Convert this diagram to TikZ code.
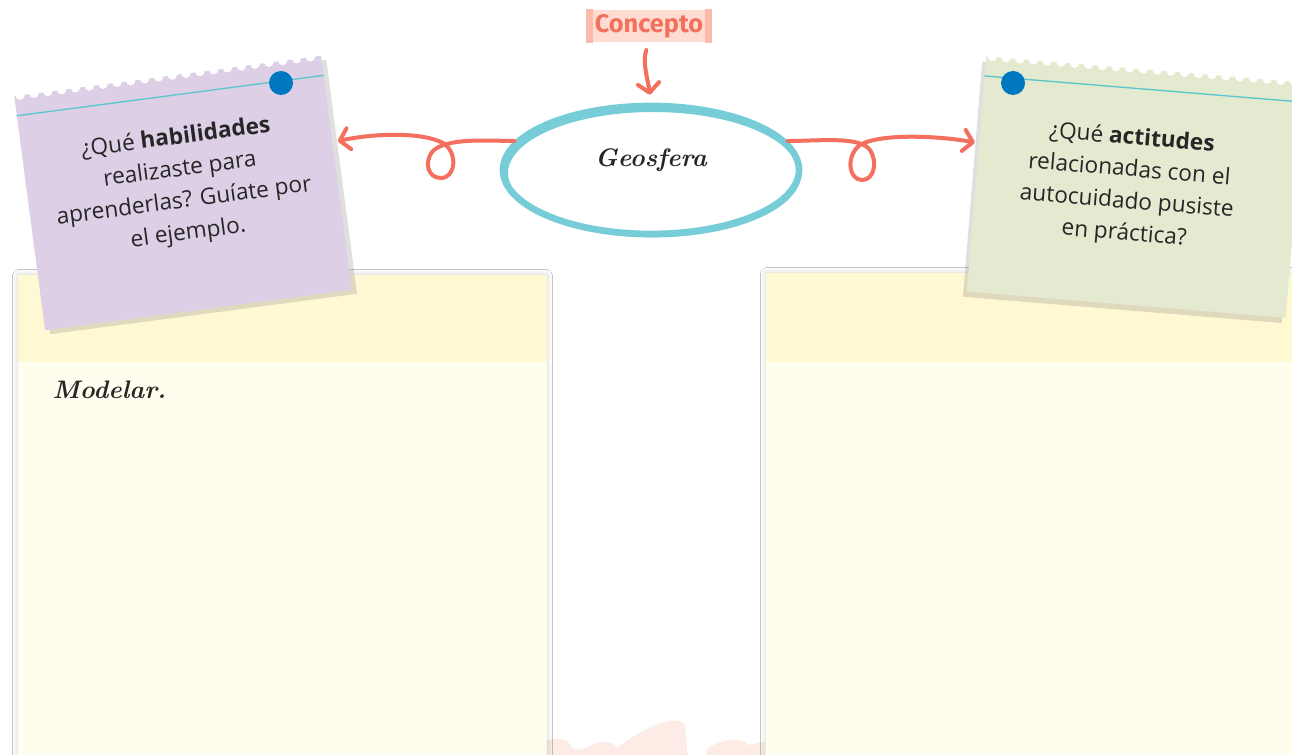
\documentclass[tikz,border=0pt]{standalone}
\usepackage{fontspec}
\newfontfamily\notefont{Open Sans}
\newfontfamily\tagfont{Fira Sans}
\usetikzlibrary{shapes.geometric,arrows.meta,calc,shadows,shadows.blur}
\definecolor{lilac}{HTML}{DDD0E6}
\definecolor{sage}{HTML}{E3EAD0}
\definecolor{salmon}{HTML}{F36F5E}
\definecolor{aqua}{HTML}{76CDD8}
\definecolor{pinline}{HTML}{5CC6CF}
\definecolor{pinblue}{HTML}{0078C1}
\definecolor{tagpink}{HTML}{FFDCD2}
\definecolor{tagedge}{HTML}{FDBAAA}
\definecolor{padtop}{HTML}{FFF9D3}
\definecolor{padbody}{HTML}{FFFDEE}
\definecolor{blush}{HTML}{FDECE6}
\begin{document}
\begin{tikzpicture}[x=0.75pt,y=-0.75pt,
    link/.style={salmon, line width=3pt, line cap=round, -{Straight Barb[length=7pt,width=16pt,round]}},
    note/.style={minimum width=232pt, minimum height=177pt, inner sep=0pt},
    notetext/.style={font=\notefont\fontsize{17}{24}\selectfont, align=center, text=black!85},
    hand/.style={font=\rmfamily\bfseries\itshape\fontsize{19}{22}\selectfont, text=black!85},
    pad/.style={blur shadow={shadow xshift=0pt, shadow yshift=0pt, shadow blur radius=4pt, shadow opacity=18}}]
  \useasboundingbox[fill=white] (0,0) rectangle (1292,755);

  % faint shapes at the bottom
  \fill[blush] (538,760) -- (538,745) .. controls (545,738) and (568,734) .. (572,748) -- (582,750) .. controls (595,742) and (612,738) .. (617,748) .. controls (640,730) and (675,712) .. (685,725) -- (688,760) -- cycle;
  \fill[blush] (705,760) -- (708,748) .. controls (720,740) and (742,736) .. (748,745) -- (765,742) -- (765,760) -- cycle;

  % answer pads
  \fill[padbody, pad] (18,275) rectangle (547,770);
  \fill[padtop] (18,275) rectangle (547,362);
  \fill[padbody, pad] (766,273) rectangle (1300,770);
  \fill[padtop] (766,273) rectangle (1300,362);
  \node[hand, anchor=west] (model) at (48,390) {Modelar.};

  % left note
  \node (habil) [note, fill=lilac, rotate=7.5, drop shadow={shadow xshift=4pt, shadow yshift=-3pt, opacity=0.25}] at (183,193) {};
  \foreach \t in {0.02,0.065,...,1}
    \fill[white] ($(habil.north west)!\t!(habil.north east)$) circle (3.5pt);
  \draw[pinline, line width=1pt] ($(habil.north west)!15pt!(habil.south west)$) -- ($(habil.north east)!15pt!(habil.south east)$);
  \fill[pinblue] (281,83) circle (9pt);
  \node (habiltext) [notetext, rotate=7.5] at ($(habil.center)!0.06!(habil.north)$) {¿Qué \textbf{habilidades}\\realizaste para\\aprenderlas? Guíate por\\el ejemplo.};

  % right note
  \node (actit) [note, minimum width=240pt, fill=sage, rotate=-4.7, drop shadow={shadow xshift=-3pt, shadow yshift=-4pt, opacity=0.25}] at (1136,187) {};
  \foreach \t in {0.02,0.063,...,1}
    \fill[white] ($(actit.north west)!\t!(actit.north east)$) circle (3.5pt);
  \draw[pinline, line width=1pt] ($(actit.north west)!15pt!(actit.south west)$) -- ($(actit.north east)!15pt!(actit.south east)$);
  \fill[pinblue] (1013,83) circle (9pt);
  \node (actittext) [notetext, rotate=-4.7] at ($(actit.center)!0.05!(actit.west)$) {¿Qué \textbf{actitudes}\\relacionadas con el\\autocuidado pusiste\\en práctica?};

  % concept tag
  \node (concept) [fill=tagpink, minimum width=94pt, minimum height=24pt, text=salmon, font=\tagfont\bfseries\fontsize{19}{20}\selectfont] at (649,26) {Concepto};
  \fill[tagedge] (concept.north west) rectangle ($(concept.south west)+(7,0)$);
  \fill[tagedge] (concept.north east) rectangle ($(concept.south east)+(-7,0)$);

  % central idea
  \node (geo) [ellipse, draw=aqua, line width=5pt, minimum width=222pt, minimum height=96pt] at (651,170) {};
  \draw[aqua, line width=2.5pt] ($(geo.center)+(2,3)$) ellipse (110pt and 47pt);
  \node (geotext) [hand] at ($(geo.center)+(0,-10)$) {Geosfera};

  \draw[link, shorten <=6pt, shorten >=6pt] (concept.south) .. controls (642,62) and (648,80) .. (geo.north);
  \draw[link, shorten >=4pt] (geo.168) .. controls (490,141) and (445,137) .. (432,152) .. controls (424,163) and (428,178) .. (441,178) .. controls (456,178) and (458,152) .. (443,143) .. controls (420,131) and (370,134) .. ($(habil.north east)!0.37!(habil.south east)$);
  \draw[link, shorten >=3pt] (geo.12) .. controls (820,141) and (860,136) .. (870,150) .. controls (878,162) and (874,180) .. (862,180) .. controls (848,180) and (846,155) .. (860,145) .. controls (880,133) and (940,136) .. ($(actit.north west)!0.37!(actit.south west)$);
\end{tikzpicture}
\end{document}
